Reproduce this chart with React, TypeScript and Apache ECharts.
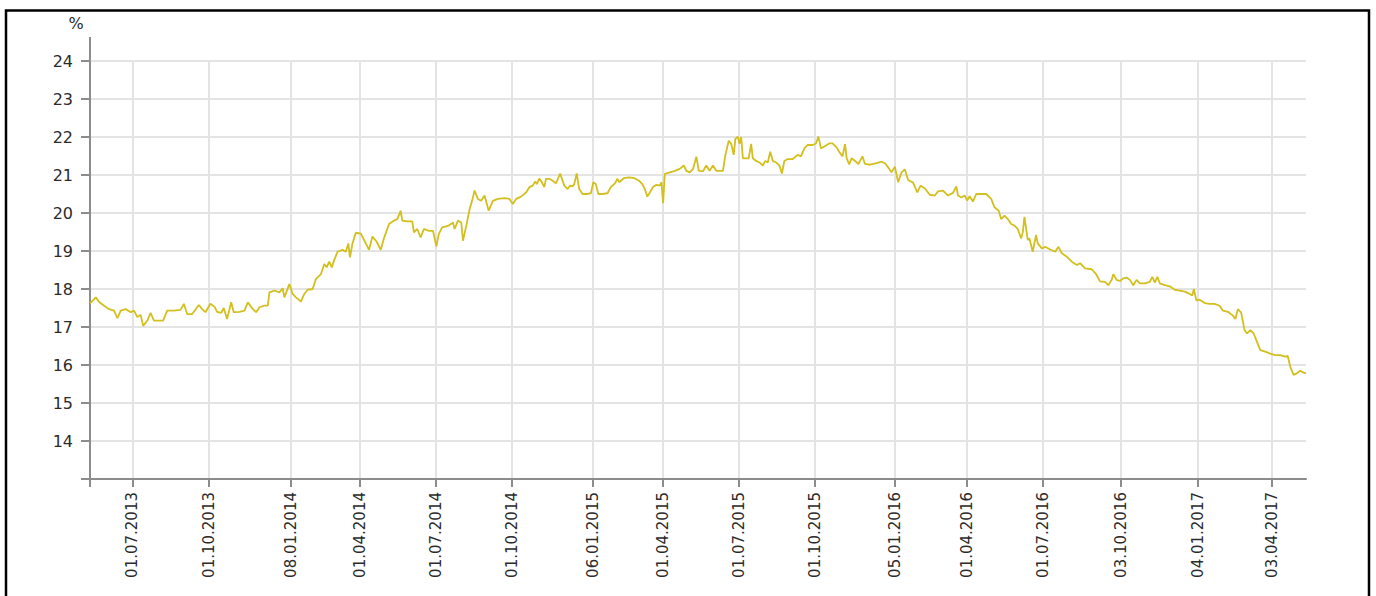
import React, { useEffect, useRef } from "react";
import * as echarts from "echarts";

// Observation dates (ISO) and values in %
const obsDates: string[] = [
  "2013-05-11","2013-05-18","2013-05-22","2013-05-28","2013-06-03","2013-06-09","2013-06-13","2013-06-17","2013-06-23","2013-06-29",
  "2013-07-03","2013-07-07","2013-07-11","2013-07-14","2013-07-19","2013-07-23","2013-07-27","2013-07-31","2013-08-07","2013-08-12",
  "2013-08-20","2013-08-28","2013-09-01","2013-09-05","2013-09-11","2013-09-19","2013-09-23","2013-09-27","2013-10-03","2013-10-08",
  "2013-10-11","2013-10-16","2013-10-19","2013-10-23","2013-10-28","2013-10-31","2013-11-07","2013-11-13","2013-11-17","2013-11-23",
  "2013-11-27","2013-12-01","2013-12-07","2013-12-11","2013-12-13","2013-12-19","2013-12-25","2013-12-29","2013-12-31","2014-01-06",
  "2014-01-10","2014-01-14","2014-01-20","2014-01-24","2014-01-28","2014-02-03","2014-02-07","2014-02-13","2014-02-17","2014-02-20",
  "2014-02-23","2014-02-26","2014-03-01","2014-03-05","2014-03-11","2014-03-15","2014-03-18","2014-03-20","2014-03-23","2014-03-27",
  "2014-04-02","2014-04-08","2014-04-12","2014-04-16","2014-04-21","2014-04-26","2014-04-30","2014-05-06","2014-05-12","2014-05-16",
  "2014-05-20","2014-05-22","2014-05-28","2014-06-03","2014-06-05","2014-06-09","2014-06-13","2014-06-17","2014-06-23","2014-06-28",
  "2014-07-02","2014-07-05","2014-07-09","2014-07-16","2014-07-22","2014-07-24","2014-07-28","2014-08-01","2014-08-03","2014-08-07",
  "2014-08-11","2014-08-14","2014-08-17","2014-08-21","2014-08-25","2014-08-29","2014-09-03","2014-09-08","2014-09-14","2014-09-22",
  "2014-09-28","2014-10-02","2014-10-06","2014-10-12","2014-10-18","2014-10-22","2014-10-26","2014-10-29","2014-10-31","2014-11-03",
  "2014-11-06","2014-11-09","2014-11-11","2014-11-15","2014-11-19","2014-11-23","2014-11-28","2014-12-03","2014-12-07","2014-12-10",
  "2014-12-13","2014-12-15","2014-12-18","2014-12-21","2014-12-25","2014-12-31","2015-01-04","2015-01-07","2015-01-10","2015-01-13",
  "2015-01-18","2015-01-24","2015-01-28","2015-02-02","2015-02-05","2015-02-07","2015-02-13","2015-02-19","2015-02-25","2015-03-03",
  "2015-03-07","2015-03-10","2015-03-13","2015-03-16","2015-03-20","2015-03-24","2015-03-28","2015-03-30","2015-04-01","2015-04-03",
  "2015-04-09","2015-04-15","2015-04-21","2015-04-26","2015-04-29","2015-05-03","2015-05-07","2015-05-11","2015-05-14","2015-05-19",
  "2015-05-23","2015-05-27","2015-05-31","2015-06-04","2015-06-12","2015-06-15","2015-06-19","2015-06-22","2015-06-25","2015-06-27",
  "2015-06-30","2015-07-02","2015-07-04","2015-07-06","2015-07-10","2015-07-13","2015-07-16","2015-07-18","2015-07-22","2015-07-26",
  "2015-07-30","2015-08-02","2015-08-05","2015-08-08","2015-08-11","2015-08-15","2015-08-19","2015-08-22","2015-08-25","2015-08-29",
  "2015-09-04","2015-09-10","2015-09-14","2015-09-18","2015-09-22","2015-09-28","2015-10-02","2015-10-05","2015-10-08","2015-10-12",
  "2015-10-18","2015-10-22","2015-10-27","2015-10-30","2015-11-03","2015-11-06","2015-11-08","2015-11-11","2015-11-14","2015-11-18",
  "2015-11-22","2015-11-27","2015-11-30","2015-12-06","2015-12-14","2015-12-20","2015-12-24","2015-12-28","2016-01-01","2016-01-05",
  "2016-01-09","2016-01-13","2016-01-17","2016-01-21","2016-01-27","2016-02-01","2016-02-05","2016-02-10","2016-02-16","2016-02-22",
  "2016-02-26","2016-03-03","2016-03-09","2016-03-15","2016-03-19","2016-03-21","2016-03-25","2016-03-29","2016-04-01","2016-04-04",
  "2016-04-08","2016-04-12","2016-04-18","2016-04-24","2016-04-30","2016-05-04","2016-05-09","2016-05-12","2016-05-16","2016-05-20",
  "2016-05-24","2016-05-28","2016-06-01","2016-06-05","2016-06-07","2016-06-09","2016-06-13","2016-06-15","2016-06-19","2016-06-23",
  "2016-06-25","2016-06-30","2016-07-04","2016-07-10","2016-07-16","2016-07-20","2016-07-24","2016-07-30","2016-08-05","2016-08-11",
  "2016-08-15","2016-08-21","2016-08-29","2016-09-03","2016-09-08","2016-09-14","2016-09-18","2016-09-22","2016-09-24","2016-09-28",
  "2016-10-02","2016-10-06","2016-10-10","2016-10-14","2016-10-18","2016-10-22","2016-10-26","2016-11-01","2016-11-07","2016-11-10",
  "2016-11-13","2016-11-16","2016-11-19","2016-11-25","2016-12-01","2016-12-07","2016-12-13","2016-12-19","2016-12-25","2016-12-28",
  "2016-12-30","2017-01-02","2017-01-06","2017-01-12","2017-01-18","2017-01-24","2017-01-30","2017-02-03","2017-02-09","2017-02-15",
  "2017-02-18","2017-02-21","2017-02-25","2017-03-01","2017-03-04","2017-03-08","2017-03-12","2017-03-16","2017-03-20","2017-03-26",
  "2017-04-01","2017-04-07","2017-04-13","2017-04-19","2017-04-22","2017-04-25","2017-04-29","2017-05-03","2017-05-07","2017-05-11",
  "2017-05-14",
];

const obsValues: number[] = [
  17.62,17.78,17.66,17.56,17.47,17.43,17.23,17.43,17.47,17.39,
  17.43,17.26,17.32,17.03,17.17,17.37,17.17,17.17,17.17,17.43,
  17.43,17.45,17.61,17.34,17.34,17.58,17.47,17.39,17.61,17.53,
  17.40,17.37,17.50,17.21,17.65,17.39,17.40,17.43,17.65,17.47,
  17.39,17.52,17.56,17.56,17.91,17.96,17.91,18.02,17.78,18.13,
  17.87,17.78,17.67,17.87,17.98,18.00,18.26,18.39,18.66,18.57,
  18.72,18.57,18.76,18.98,19.03,18.98,19.20,18.83,19.20,19.48,
  19.46,19.20,19.03,19.38,19.25,19.03,19.34,19.71,19.80,19.84,
  20.06,19.80,19.78,19.78,19.49,19.58,19.36,19.58,19.53,19.53,
  19.12,19.45,19.62,19.66,19.75,19.58,19.80,19.75,19.27,19.66,
  20.10,20.32,20.59,20.37,20.32,20.46,20.06,20.32,20.37,20.39,
  20.37,20.24,20.37,20.43,20.54,20.68,20.72,20.83,20.76,20.91,
  20.81,20.68,20.90,20.90,20.85,20.78,21.04,20.72,20.63,20.72,
  20.70,20.76,21.04,20.63,20.50,20.50,20.52,20.81,20.76,20.50,
  20.50,20.52,20.68,20.78,20.90,20.81,20.92,20.94,20.92,20.85,
  20.76,20.63,20.43,20.54,20.69,20.74,20.72,20.81,20.26,21.03,
  21.07,21.11,21.16,21.25,21.11,21.07,21.16,21.48,21.11,21.10,
  21.25,21.11,21.25,21.11,21.11,21.53,21.90,21.82,21.53,21.95,
  22.01,21.82,22.00,21.44,21.44,21.44,21.82,21.44,21.37,21.33,
  21.25,21.37,21.33,21.61,21.37,21.33,21.25,21.04,21.37,21.42,
  21.42,21.53,21.49,21.70,21.79,21.79,21.83,22.01,21.70,21.75,
  21.83,21.83,21.72,21.61,21.49,21.81,21.44,21.28,21.44,21.37,
  21.29,21.49,21.29,21.27,21.31,21.35,21.31,21.20,21.07,21.22,
  20.81,21.07,21.15,20.87,20.80,20.54,20.72,20.65,20.48,20.46,
  20.57,20.59,20.46,20.53,20.70,20.46,20.41,20.46,20.33,20.44,
  20.30,20.50,20.50,20.50,20.37,20.15,20.06,19.84,19.93,19.84,
  19.71,19.67,19.58,19.33,19.49,19.90,19.29,19.33,18.98,19.42,
  19.20,19.07,19.11,19.04,18.98,19.11,18.94,18.85,18.72,18.63,
  18.68,18.54,18.52,18.40,18.20,18.19,18.10,18.24,18.39,18.24,
  18.21,18.28,18.30,18.24,18.10,18.24,18.15,18.15,18.19,18.32,
  18.17,18.32,18.15,18.10,18.07,17.98,17.96,17.93,17.87,17.83,
  18.00,17.70,17.72,17.63,17.61,17.61,17.56,17.43,17.40,17.30,
  17.21,17.47,17.38,16.92,16.83,16.92,16.83,16.61,16.39,16.35,
  16.30,16.26,16.26,16.22,16.24,15.96,15.74,15.78,15.85,15.80,
  15.78,
];

// Dates shown as x-axis tick labels
const tickLabels: string[] = [
  "01.07.2013","01.10.2013","08.01.2014","01.04.2014","01.07.2014","01.10.2014",
  "06.01.2015","01.04.2015","01.07.2015","01.10.2015","05.01.2016","01.04.2016",
  "01.07.2016","03.10.2016","04.01.2017","03.04.2017",
];

const yTicks: number[] = [14, 15, 16, 17, 18, 19, 20, 21, 22, 23, 24];

function fmt(d: Date): string {
  const dd = String(d.getUTCDate()).padStart(2, "0");
  const mm = String(d.getUTCMonth() + 1).padStart(2, "0");
  return `${dd}.${mm}.${d.getUTCFullYear()}`;
}
function isoToLabel(s: string): string {
  const [y, m, d] = s.split("-");
  return `${d}.${m}.${y}`;
}

export default function App() {
  const ref = useRef<HTMLDivElement>(null);

  useEffect(() => {
    if (!ref.current) return;
    const chart = echarts.init(ref.current, null, { renderer: "svg" });

    // daily categories spanning observation range
    const start = new Date(obsDates[0] + "T00:00:00Z");
    const end = new Date(obsDates[obsDates.length - 1] + "T00:00:00Z");
    const categories: string[] = [];
    for (let t = start.getTime(); t <= end.getTime(); t += 86400000) {
      categories.push(fmt(new Date(t)));
    }
    const valueByDate = new Map<string, number>();
    obsDates.forEach((d, i) => valueByDate.set(isoToLabel(d), obsValues[i]));
    const seriesData = categories.map((c) =>
      valueByDate.has(c) ? valueByDate.get(c)! : null
    );
    const tickSet = new Set(tickLabels);

    const axisColor = "#8c8c8c";
    const gridColor = "#e4e4e4";
    const font = "DejaVu Sans";
    const textColor = "#2b2b2b";

    chart.setOption({
      animation: false,
      grid: { left: 90, right: 70, top: 61, bottom: 117, containLabel: false },
      xAxis: {
        type: "category",
        data: categories,
        boundaryGap: false,
        axisLine: { show: true, lineStyle: { color: axisColor, width: 2 } },
        axisTick: {
          show: true,
          length: 8,
          interval: (idx: number, val: string) => idx === 0 || tickSet.has(val),
          lineStyle: { color: axisColor, width: 2 },
        },
        axisLabel: {
          interval: (_idx: number, val: string) => tickSet.has(val),
          rotate: 90,
          margin: 13,
          fontSize: 15,
          fontFamily: font,
          color: textColor,
        },
        splitLine: {
          show: true,
          interval: (_idx: number, val: string) => tickSet.has(val),
          lineStyle: { color: gridColor, width: 2 },
        },
      },
      yAxis: {
        type: "value",
        min: 13,
        max: 24,
        interval: 1,
        axisLine: { show: true, lineStyle: { color: axisColor, width: 2 } },
        axisTick: { show: true, length: 9, lineStyle: { color: axisColor, width: 2 } },
        axisLabel: {
          margin: 17,
          fontSize: 16,
          fontFamily: font,
          color: textColor,
          formatter: (v: number) => (yTicks.includes(v) ? String(v) : ""),
        },
        splitLine: { show: true, lineStyle: { color: gridColor, width: 2 } },
      },
      series: [
        {
          type: "line",
          data: seriesData,
          connectNulls: true,
          smooth: false,
          showSymbol: false,
          symbol: "none",
          lineStyle: { color: "#d3bf1d", width: 1.8 },
          z: 3,
        },
      ],
      graphic: [
        {
          type: "rect",
          shape: { x: 6, y: 10.5, width: 1363, height: 620 },
          style: { fill: "none", stroke: "#000", lineWidth: 2.5 },
          silent: true,
        },
        {
          type: "line",
          shape: { x1: 90, y1: 37, x2: 90, y2: 61 },
          style: { stroke: axisColor, lineWidth: 2 },
          silent: true,
        },
        {
          type: "text",
          x: 76,
          y: 23,
          style: {
            text: "%",
            fontSize: 16,
            fontFamily: font,
            fill: textColor,
            align: "center",
            verticalAlign: "middle",
          },
          silent: true,
        },
      ],
    });

    return () => chart.dispose();
  }, []);

  return (
    <div
      ref={ref}
      style={{ position: "fixed", left: 0, top: 0, width: 1376, height: 596, background: "#fff" }}
    />
  );
}
